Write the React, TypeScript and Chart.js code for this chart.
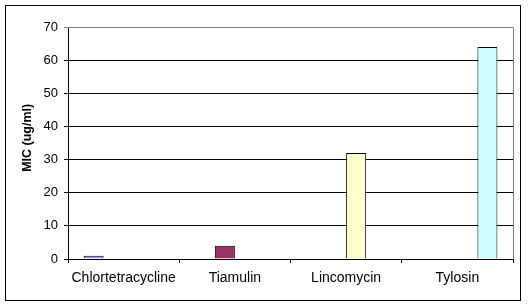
import React, { useEffect, useRef } from "react";
import { Chart, registerables } from "chart.js";

Chart.register(...registerables);

const categories = ["Chlortetracycline", "Tiamulin", "Lincomycin", "Tylosin"];
const chlortetracycline = [1, null, null, null];
const tiamulin = [null, 4, null, null];
const lincomycin = [null, null, 32, null];
const tylosin = [null, null, null, 64];
const yTicks = [0, 10, 20, 30, 40, 50, 60, 70];
const yTitle = "MIC (ug/ml)";

const FONT = "'Liberation Sans', Arial, sans-serif";

const framePlugin = {
  id: "frame",
  afterDraw(chart: any) {
    const { ctx, chartArea } = chart;
    ctx.save();
    ctx.lineWidth = 1;
    ctx.strokeStyle = "#808080";
    ctx.beginPath();
    ctx.moveTo(chartArea.left, Math.round(chartArea.top) + 0.5);
    ctx.lineTo(Math.round(chartArea.right) + 0.5, Math.round(chartArea.top) + 0.5);
    ctx.lineTo(Math.round(chartArea.right) + 0.5, chartArea.bottom);
    ctx.stroke();
    ctx.strokeStyle = "#000000";
    ctx.strokeRect(5.5, 5.5, 515, 295);
    ctx.restore();
  },
};

export default function App() {
  const ref = useRef<HTMLCanvasElement | null>(null);
  useEffect(() => {
    document.body.style.margin = "0";
    const mk = (label: string, data: (number | null)[], color: string) => ({
      label,
      data,
      backgroundColor: color,
      borderColor: "#000000",
      borderWidth: 1,
      categoryPercentage: 0.72,
      barPercentage: 1.0,
    });
    const chart = new Chart(ref.current as HTMLCanvasElement, {
      type: "bar",
      data: {
        labels: categories,
        datasets: [
          mk("Chlortetracycline", chlortetracycline, "#9999FF"),
          mk("Tiamulin", tiamulin, "#993366"),
          mk("Lincomycin", lincomycin, "#FFFFCC"),
          mk("Tylosin", tylosin, "#CCFFFF"),
        ],
      },
      options: {
        animation: false,
        responsive: false,
        devicePixelRatio: 1,
        layout: { padding: { left: 0, right: 15, top: 27, bottom: 0 } },
        plugins: { legend: { display: false }, tooltip: { enabled: false } },
        scales: {
          x: {
            grid: {
              drawOnChartArea: false,
              drawTicks: true,
              tickLength: 4,
              color: "#000000",
              offset: true,
            },
            border: { display: true, color: "#000000" },
            ticks: {
              color: "#000000",
              padding: 7,
              maxRotation: 0,
              autoSkip: false,
              font: { family: FONT, size: 14 },
            },
            afterFit: (s: any) => {
              s.height = 47;
            },
          },
          y: {
            min: 0,
            max: 70,
            afterBuildTicks: (s: any) => {
              s.ticks = yTicks.map((v) => ({ value: v }));
            },
            grid: {
              color: (c: any) => (c.tick && c.tick.value === 70 ? "#808080" : "#000000"),
              tickLength: 4,
              drawTicks: true,
            },
            border: { display: true, color: "#000000" },
            ticks: {
              color: "#000000",
              padding: 6,
              font: { family: FONT, size: 13 },
            },
            title: {
              display: true,
              text: "   " + yTitle,
              color: "#000000",
              padding: { top: 20, bottom: 0 },
              font: { family: FONT, size: 12.5, weight: "bold" },
            },
            afterFit: (s: any) => {
              s.width = 68;
            },
          },
        },
      },
      plugins: [framePlugin],
    });
    return () => chart.destroy();
  }, []);
  return (
    <div style={{ position: "absolute", left: 0, top: 0, width: 528, height: 306, background: "#fff" }}>
      <canvas ref={ref} width={528} height={306} style={{ width: 528, height: 306 }} />
    </div>
  );
}
